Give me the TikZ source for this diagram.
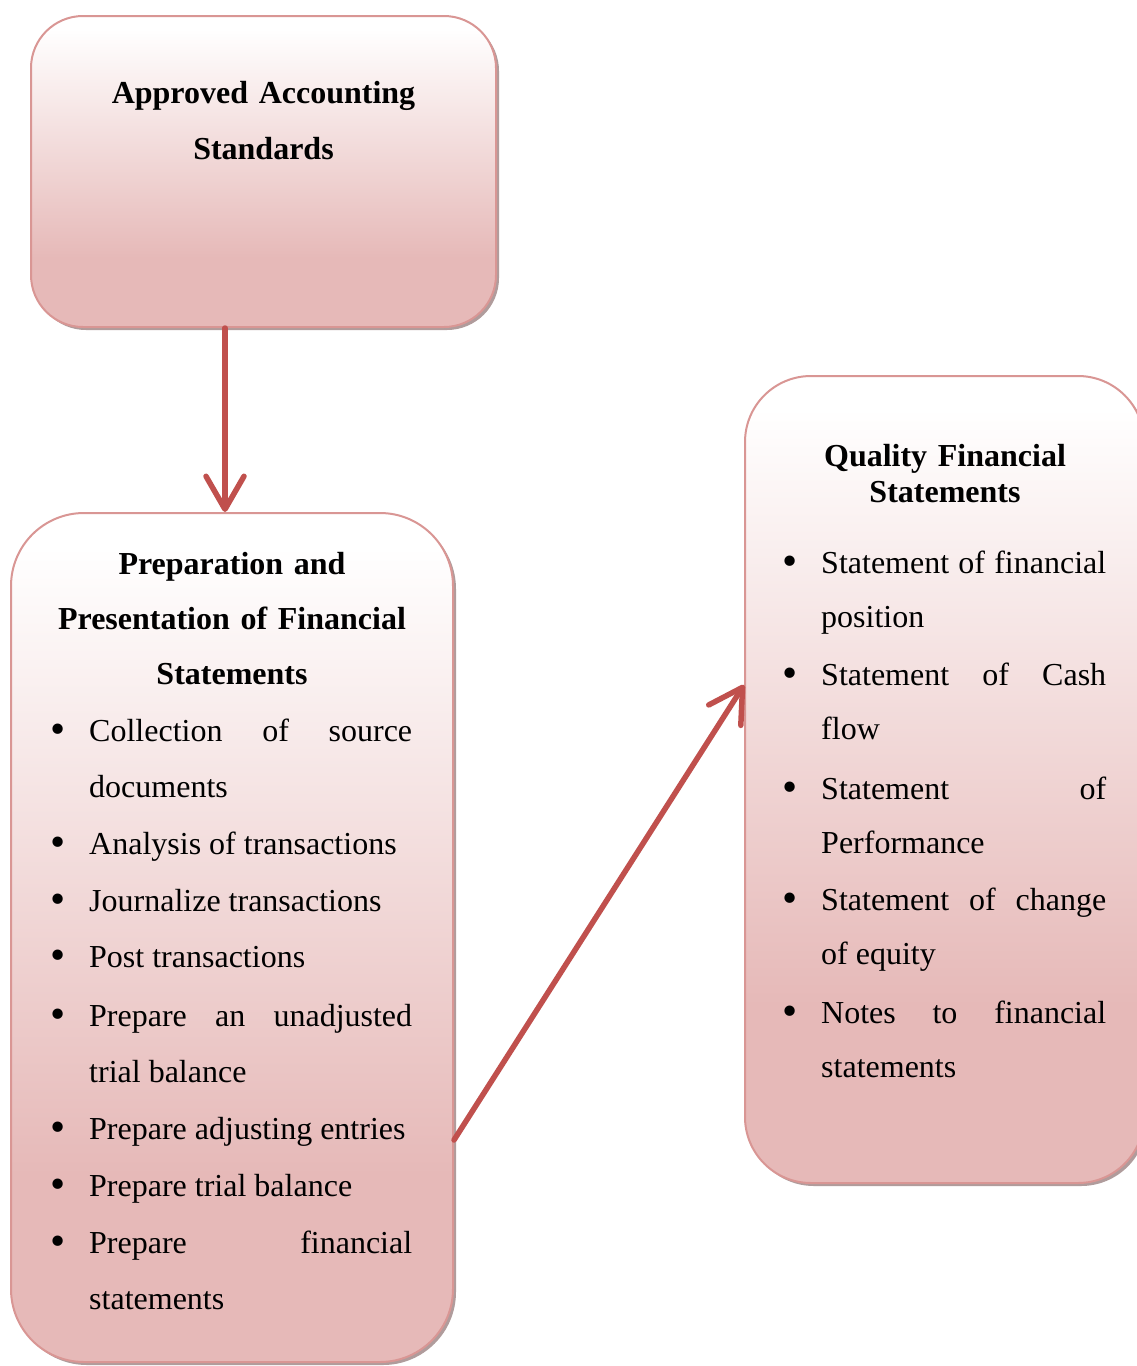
\documentclass[tikz,border=0pt]{standalone}
\usepackage{fontspec}
\setmainfont{Liberation Serif}
\usetikzlibrary{arrows.meta,shadows}
\definecolor{boxborder}{HTML}{D99694}
\definecolor{boxpink}{HTML}{E6B9B8}
\definecolor{arrowred}{HTML}{C0504D}
\definecolor{shadowc}{HTML}{B09C9C}
\pgfdeclareverticalshading{boxshade}{100bp}{color(0bp)=(boxpink); color(36bp)=(boxpink); color(73bp)=(white); color(100bp)=(white)}
\newcommand{\bul}{\llap{\raisebox{-2pt}{\scalebox{1.35}{\textbullet}}\hspace{23.5pt}}}
\tikzset{
  roundbox/.style={draw=boxborder, line width=2pt, shading=boxshade, rounded corners=#1,
    inner sep=0pt, drop shadow={shadow xshift=3pt, shadow yshift=-3pt, fill=shadowc, opacity=1}},
  hdr/.style={font=\fontsize{32}{#1}\selectfont\bfseries, text width=440pt, align=center,
    anchor=base, inner sep=0pt},
  itemB/.style={font=\fontsize{32}{56}\selectfont, text width=323pt, align=justify,
    anchor=base west, inner sep=0pt},
  itemC/.style={font=\fontsize{32}{54.5}\selectfont, text width=285pt, align=justify,
    anchor=base west, inner sep=0pt},
  conn/.style={draw=arrowred, line width=5.5pt, line cap=round,
    -{Straight Barb[length=33pt, width=38pt, round]}}
}
\begin{document}
\begin{tikzpicture}[x=1pt, y=-1pt]
\path[use as bounding box] (0,0) rectangle (1137,1366);
\clip (0,0) rectangle (1137,1366);
\fill[white] (0,0) rectangle (1137,1366);
% boxes
\node[roundbox=52pt, minimum width=465pt, minimum height=311pt] (A) at (263.5,171.5) {};
\node[roundbox=73pt, minimum width=442pt, minimum height=849pt] (B) at (232,937.5) {};
\node[roundbox=66pt, minimum width=399pt, minimum height=807pt] (C) at (944.5,779.5) {};
% headers
\node[hdr=56pt] (hA) at (263.5,103) {Approved Accounting\\Standards};
\node[hdr=55pt] (hB) at (232,574) {Preparation and\\Presentation of Financial\\Statements};
\node[hdr=36pt] (hC) at (945,466) {Quality Financial\\Statements};
% items of B
\node[itemB] (b1) at (89,741) {\bul Collection of source\linebreak documents};
\node[itemB] (b2) at (89,854) {\bul Analysis of transactions};
\node[itemB] (b3) at (89,911) {\bul Journalize transactions};
\node[itemB] (b4) at (89,967) {\bul Post transactions};
\node[itemB] (b5) at (89,1026) {\bul Prepare an unadjusted\linebreak trial balance};
\node[itemB] (b6) at (89,1139) {\bul Prepare adjusting entries};
\node[itemB] (b7) at (89,1196) {\bul Prepare trial balance};
\node[itemB] (b8) at (89,1253) {\bul Prepare financial\linebreak statements};
% items of C
\node[itemC] (c1) at (821,573) {\bul Statement of financial\linebreak position};
\node[itemC] (c2) at (821,685) {\bul Statement of Cash\linebreak flow};
\node[itemC] (c3) at (821,799) {\bul Statement of\linebreak Performance};
\node[itemC] (c4) at (821,910) {\bul Statement of change\linebreak of equity};
\node[itemC] (c5) at (821,1023) {\bul Notes to financial\linebreak statements};
% connectors
\draw[conn] ([xshift=-38.5pt]A.south) -- ([xshift=-7pt]B.north);
\draw[conn] ([yshift=-202.5pt]B.east) -- ([yshift=94.5pt]C.west);
\end{tikzpicture}
\end{document}
